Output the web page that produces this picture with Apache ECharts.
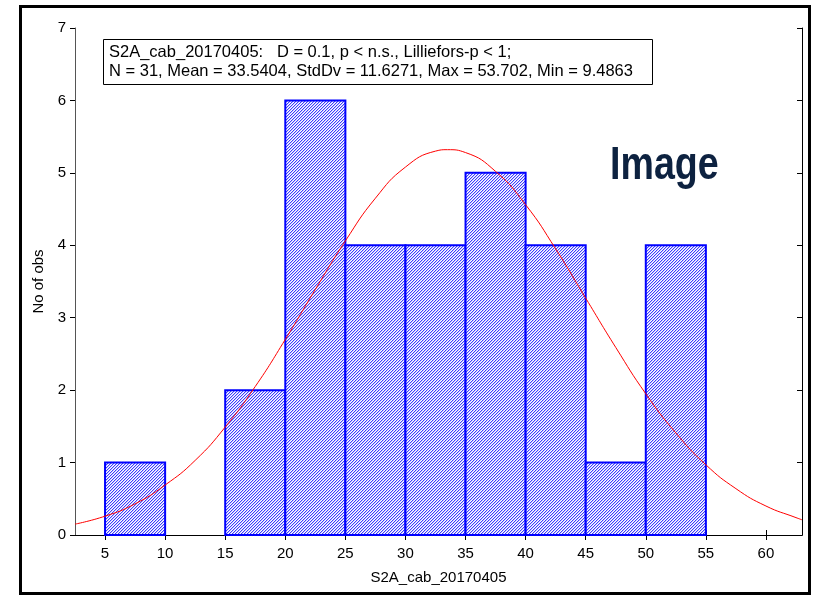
<!DOCTYPE html>
<html>
<head>
<meta charset="utf-8">
<script src="https://cdn.jsdelivr.net/npm/echarts@6/dist/echarts.min.js"></script>
<style>
html,body{margin:0;padding:0;background:#fff;}
#chart{width:815px;height:599px;}
</style>
</head>
<body>
<div id="chart"></div>
<script>
// ---- data ----
var binStarts = [5, 10, 15, 20, 25, 30, 35, 40, 45, 50];
var binEnds   = [10, 15, 20, 25, 30, 35, 40, 45, 50, 55];
var counts    = [1, 0, 2, 6, 4, 4, 5, 4, 1, 4];
var curveX = [2.5, 5, 7.5, 10, 12.5, 15, 17.5, 20, 22.5, 25, 27.5, 30, 32.5, 33.5, 35, 37.5, 40, 42.5, 45, 47.5, 50, 52.5, 55, 57.5, 60, 62.5, 63];
var curveY = [0.15, 0.26, 0.43, 0.69, 1.03, 1.49, 2.05, 2.70, 3.39, 4.06, 4.65, 5.08, 5.30, 5.32, 5.28, 5.02, 4.56, 3.95, 3.27, 2.59, 1.95, 1.41, 0.97, 0.64, 0.40, 0.24, 0.21];
var xTicks = [5, 10, 15, 20, 25, 30, 35, 40, 45, 50, 55, 60];
var xName = 'S2A_cab_20170405';
var yName = 'No of obs';
var infoLines = ['S2A_cab_20170405:   D = 0.1, p < n.s., Lilliefors-p < 1;',
                 'N = 31, Mean = 33.5404, StdDv = 11.6271, Max = 53.702, Min = 9.4863'];
var watermark = 'Image';

// ---- hatch pattern ----
function makeHatch() {
  var c = document.createElement('canvas');
  c.width = 3; c.height = 3;
  var ctx = c.getContext('2d');
  var cols = ['#3c3cff', '#c4c4ff', '#ffffff'];
  for (var x = 0; x < 3; x++) {
    for (var y = 0; y < 3; y++) {
      ctx.fillStyle = cols[(x + y) % 3];
      ctx.fillRect(x, y, 1, 1);
    }
  }
  return c;
}
var hatch = makeHatch();

var barData = binStarts.map(function (s, i) { return [s, binEnds[i], counts[i]]; });
var curveData = curveX.map(function (x, i) { return [x, curveY[i]]; });

var FONT = '"Liberation Sans", Arial, sans-serif';
var chart = echarts.init(document.getElementById('chart'), null, {renderer: 'canvas'});
chart.setOption({
  animation: false,
  backgroundColor: '#fff',
  grid: {left: 75, top: 28, right: 13, bottom: 64, containLabel: false},
  xAxis: [{
    type: 'value', min: 2.5, max: 63, position: 'bottom',
    name: xName, nameLocation: 'middle', nameGap: 35,
    nameTextStyle: {fontFamily: FONT, fontSize: 15, color: '#000'},
    axisLine: {lineStyle: {color: '#000', width: 1}},
    axisTick: {inside: true, length: 5, customValues: xTicks, lineStyle: {color: '#000'}},
    axisLabel: {customValues: xTicks, margin: 11, fontFamily: FONT, fontSize: 15, color: '#000'},
    splitLine: {show: false}
  }, {
    type: 'value', min: 2.5, max: 63, position: 'top',
    axisLine: {lineStyle: {color: '#000', width: 1}},
    axisTick: {inside: true, length: 5, customValues: xTicks, lineStyle: {color: '#000'}},
    axisLabel: {show: false},
    splitLine: {show: false}
  }],
  yAxis: [{
    type: 'value', min: 0, max: 7, interval: 1, position: 'left',
    name: yName, nameLocation: 'middle', nameGap: 29,
    nameTextStyle: {fontFamily: FONT, fontSize: 15, color: '#000'},
    axisLine: {show: true, lineStyle: {color: '#555', width: 1}},
    axisTick: {show: true, inside: false, length: 5, lineStyle: {color: '#000'}},
    axisLabel: {margin: 9, fontFamily: FONT, fontSize: 15, color: '#000'},
    splitLine: {show: false}
  }, {
    type: 'value', min: 0, max: 7, interval: 1, position: 'right',
    axisLine: {show: true, lineStyle: {color: '#000', width: 1}},
    axisTick: {show: true, inside: true, length: 5, lineStyle: {color: '#000'}},
    axisLabel: {show: false},
    splitLine: {show: false}
  }],
  graphic: [{
    type: 'rect', left: 18, top: 4, z: 100, silent: true,
    shape: {width: 789, height: 587},
    style: {fill: null, stroke: '#000', lineWidth: 3}
  }, {
    type: 'rect', left: 103, top: 39, z: 50,
    shape: {width: 549, height: 45},
    style: {fill: '#fff', stroke: '#000', lineWidth: 1}
  }, {
    type: 'text', x: 109, y: 43, z: 51,
    style: {text: infoLines.join('\n'), font: '16.5px ' + FONT, fill: '#000', lineHeight: 19, verticalAlign: 'top'}
  }, {
    type: 'text', x: 610, y: 143, z: 51, scaleX: 0.8,
    style: {text: watermark, font: 'bold 47px ' + FONT, fill: '#0d2240', verticalAlign: 'top'}
  }],
  series: [{
    type: 'custom',
    xAxisIndex: 0, yAxisIndex: 0,
    data: barData,
    encode: {x: [0, 1], y: 2},
    renderItem: function (params, api) {
      var h = api.value(2);
      if (!h) return null;
      var p1 = api.coord([api.value(0), h]);
      var p2 = api.coord([api.value(1), 0]);
      return {
        type: 'rect',
        shape: {x: p1[0], y: p1[1], width: p2[0] - p1[0], height: p2[1] - p1[1]},
        style: {fill: {image: hatch, repeat: 'repeat'}, stroke: '#0000ff', lineWidth: 2}
      };
    },
    z: 2
  }, {
    type: 'line',
    xAxisIndex: 0, yAxisIndex: 0,
    data: curveData,
    smooth: true,
    showSymbol: false,
    symbol: 'none',
    lineStyle: {color: '#ff0000', width: 1},
    z: 3
  }]
});
</script>
</body>
</html>
